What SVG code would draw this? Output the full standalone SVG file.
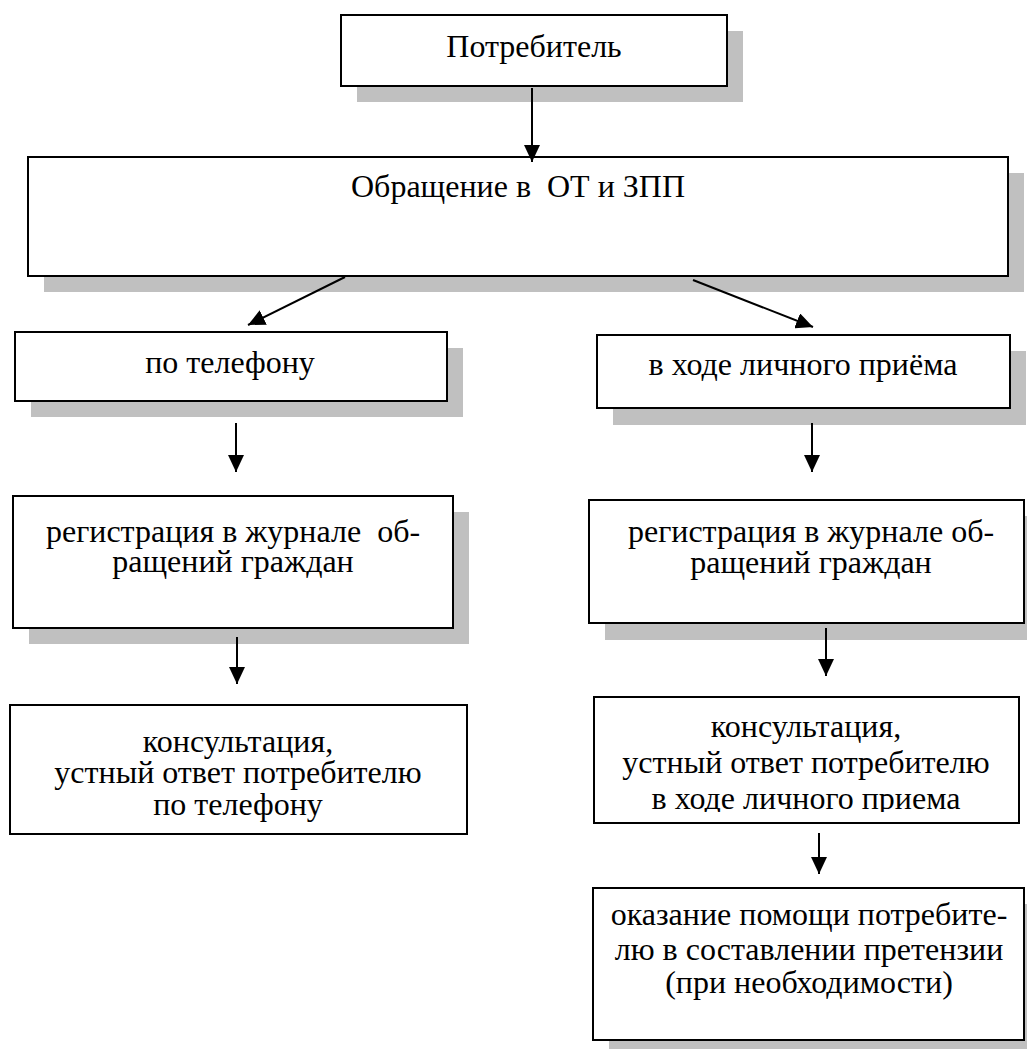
<svg xmlns="http://www.w3.org/2000/svg" width="1027" height="1049" viewBox="0 0 1027 1049">
<defs>
<marker id="ah" markerUnits="userSpaceOnUse" markerWidth="17" markerHeight="16" refX="17" refY="8" orient="auto">
<path d="M0,0 L17,8 L0,16 z" fill="#000"/>
</marker>
<clipPath id="clipR"><rect x="590" y="690" width="435" height="122"/></clipPath>
</defs>
<rect width="1027" height="1049" fill="#fff"/>

<g id="shadows" fill="#c0c0c0">
<rect x="357" y="31" width="386" height="71"/>
<rect x="44" y="173" width="980" height="119"/>
<rect x="31" y="348" width="432" height="69"/>
<rect x="613" y="351" width="413" height="74"/>
<rect x="29" y="512" width="440" height="132"/>
<rect x="605" y="516" width="435" height="124"/>
<rect x="609" y="904" width="431" height="152"/>
</g>

<g id="boxes" fill="#fff" stroke="#000" stroke-width="2">
<rect id="n1" x="341" y="15" width="386" height="71"/>
<rect id="n2" x="28" y="157" width="980" height="119"/>
<rect id="n3" x="15" y="332" width="432" height="69"/>
<rect id="n4" x="597" y="335" width="413" height="73"/>
<rect id="n5" x="13" y="496" width="440" height="132"/>
<rect id="n6" x="589" y="500" width="435" height="123"/>
<rect id="n7" x="10" y="705" width="457" height="129"/>
<rect id="n8" x="594" y="697" width="425" height="126"/>
<rect id="n9" x="593" y="888" width="431" height="152"/>
</g>

<g id="labels" font-family="Liberation Serif" font-size="32" text-anchor="middle" fill="#000">
<text x="534" y="57">Потребитель</text>
<text x="518" y="197" xml:space="preserve">Обращение в  ОТ и ЗПП</text>
<text x="230" y="373">по телефону</text>
<text x="803" y="375">в ходе личного приёма</text>
<text x="233" y="542" xml:space="preserve">регистрация в журнале  об-</text>
<text x="233" y="572">ращений граждан</text>
<text x="811" y="542">регистрация в журнале об-</text>
<text x="811" y="573">ращений граждан</text>
<text x="238" y="752">консультация,</text>
<text x="238" y="783">устный ответ потребителю</text>
<text x="238" y="815">по телефону</text>
<text x="806" y="737">консультация,</text>
<text x="806" y="773">устный ответ потребителю</text>
<text x="806" y="809" clip-path="url(#clipR)">в ходе личного приема</text>
<text x="809" y="925">оказание помощи потребите-</text>
<text x="809" y="960">лю в составлении претензии</text>
<text x="809" y="993">(при необходимости)</text>
</g>

<g id="connectors" stroke="#000" stroke-width="2" fill="none" marker-end="url(#ah)">
<line x1="532" y1="88" x2="532" y2="162"/>
<line x1="345" y1="277" x2="248" y2="325"/>
<line x1="693" y1="280" x2="813" y2="327"/>
<line x1="236" y1="423" x2="236" y2="472"/>
<line x1="812" y1="423" x2="812" y2="472"/>
<line x1="237" y1="637" x2="237" y2="684"/>
<line x1="826" y1="628" x2="826" y2="676"/>
<line x1="819" y1="833" x2="819" y2="874"/>
</g>
</svg>
